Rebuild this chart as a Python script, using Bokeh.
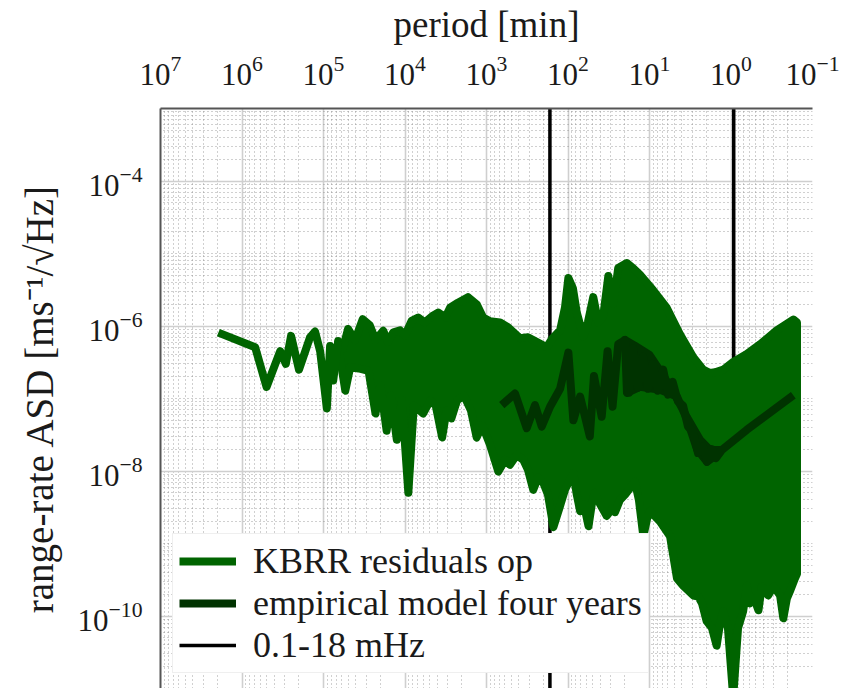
from bokeh.plotting import figure
from bokeh.models import Range1d, FixedTicker, Legend, LegendItem
from bokeh.embed import file_html
from bokeh.resources import INLINE

# KBRR range-rate residual ASD, lowest-frequency bins (period in min, ASD in m/s/sqrt(Hz))
kbrr_low_period = [1.95e6, 6.9e5, 5.0e5, 3.4e5, 2.9e5, 2.5e5, 2.0e5, 1.64e5,
                   1.47e5, 1.27e5, 1.10e5, 9.1e4, 8.3e4, 7.6e4, 6.6e4]
kbrr_low_asd = [8.1e-7, 5.1e-7, 1.44e-7, 4.5e-7, 3.0e-7, 7.3e-7, 2.5e-7, 4.8e-7,
                6.9e-7, 8.4e-7, 4.5e-7, 7.3e-8, 5.3e-7, 1.77e-7, 6.2e-7]

# Dense part of the KBRR spectrum: upper envelope
kbrr_upper_period = [6.6e4, 5.8e4, 5.0e4, 4.1e4, 3.3e4, 2.7e4, 2.3e4, 1.85e4, 1.62e4, 1.39e4,
                     1.15e4, 1.0e4, 8.3e3, 6.9e3, 5.7e3, 4.5e3, 3.9e3, 3.2e3, 2.8e3, 2.24e3,
                     1.69e3, 1.31e3, 1.10e3, 906, 682, 545, 388, 310, 240, 182,
                     158, 125, 109, 99, 87, 78, 65, 57, 49, 42.5,
                     37, 32, 27.8, 24.2, 19.0, 15.9, 13.1, 8.98, 6.15, 4.23,
                     2.90, 2.19, 1.81, 1.57, 1.24, 0.94, 0.64, 0.44, 0.275, 0.172,
                     0.155]
kbrr_upper_asd = [6.2e-7, 4.8e-7, 9.1e-7, 6.4e-7, 1.24e-6, 1.02e-6, 6.4e-7, 8.6e-7, 6.0e-7, 8.2e-7,
                  8.7e-7, 7.4e-7, 1.18e-6, 1.31e-6, 1.12e-6, 1.40e-6, 1.53e-6, 1.31e-6, 1.79e-6, 2.1e-6,
                  2.5e-6, 1.97e-6, 1.31e-6, 1.16e-6, 1.12e-6, 9.6e-7, 6.8e-7, 7.0e-7, 6.0e-7, 5.1e-7,
                  6.6e-7, 8.7e-7, 1.79e-6, 4.6e-6, 3.3e-6, 1.53e-6, 7.2e-7, 1.12e-6, 2.5e-6, 1.12e-6,
                  1.35e-6, 4.9e-6, 2.0e-6, 6.3e-6, 7.4e-6, 6.3e-6, 5.1e-6, 3.1e-6, 1.79e-6, 7.7e-7,
                  3.7e-7, 2.5e-7, 2.25e-7, 2.3e-7, 2.5e-7, 3.2e-7, 4.1e-7, 5.6e-7, 8.7e-7, 1.23e-6,
                  1.12e-6]

# Dense part of the KBRR spectrum: lower envelope with its deep dips
kbrr_lower_period = [6.6e4, 5.4e4, 4.7e4, 3.7e4, 2.8e4, 2.3e4, 2.0e4, 1.68e4, 1.49e4, 1.26e4,
                     1.09e4, 9.1e3, 7.8e3, 6.0e3, 4.9e3, 4.2e3, 3.5e3, 3.1e3, 2.7e3, 2.3e3,
                     1.89e3, 1.55e3, 1.32e3, 1.13e3, 906, 716, 593, 515, 426, 353,
                     310, 267, 233, 201, 176, 151, 125, 109, 86, 78,
                     71, 64, 56, 51, 47, 40.5, 33.5, 28.8, 26.5, 23.0,
                     20.0, 15.1, 13.5, 11.9, 10.7, 9.9, 7.4, 5.6, 4.6, 3.85,
                     2.90, 2.52, 2.27, 1.99, 1.71, 1.50, 1.36, 1.24, 1.09, 0.94,
                     0.82, 0.71, 0.64, 0.585, 0.52, 0.46, 0.42, 0.35, 0.30, 0.25,
                     0.228, 0.206, 0.189, 0.164, 0.155]
kbrr_lower_asd = [5.3e-7, 1.28e-7, 2.7e-7, 2.6e-7, 2.4e-7, 6.2e-8, 1.50e-7, 3.6e-8, 1.10e-7, 2.7e-8,
                  9.4e-8, 5.0e-9, 8.0e-8, 6.2e-8, 9.4e-8, 8.0e-8, 2.9e-8, 6.8e-8, 5.3e-8, 9.4e-8,
                  1.10e-7, 6.8e-8, 2.9e-8, 4.3e-8, 2.3e-8, 9.8e-9, 1.42e-8, 1.22e-8, 1.66e-8, 1.42e-8,
                  1.04e-8, 5.5e-9, 8.1e-9, 6.9e-9, 4.7e-9, 1.68e-9, 3.3e-9, 5.5e-9, 9.4e-9, 4.7e-9,
                  2.8e-9, 3.5e-9, 1.73e-9, 3.5e-9, 5.0e-9, 3.5e-9, 2.4e-9, 3.0e-9, 2.7e-9, 4.0e-9,
                  4.7e-9, 7.1e-9, 4.0e-9, 1.26e-9, 2.2e-9, 2.8e-9, 2.0e-9, 1.26e-9, 3.3e-10, 2.6e-10,
                  1.92e-10, 1.86e-10, 1.50e-10, 8.5e-11, 6.8e-11, 3.9e-11, 8.0e-11, 1.16e-10, 6.8e-11, 7.6e-12,
                  6.8e-11, 1.16e-10, 2.6e-10, 1.50e-10, 1.75e-10, 1.20e-10, 2.55e-10, 1.92e-10, 2.55e-10, 1.92e-10,
                  9.3e-11, 1.75e-10, 2.2e-10, 3.3e-10, 3.8e-10]

# Empirical noise model (four years): trace
emp_period = [650, 447, 321, 254, 210, 166, 125, 99, 86, 71,
              54, 48, 38.6, 32.7, 28.4, 24.2, 20.0, 17.9, 15.9, 13.8,
              12.0, 10.4, 9.1, 7.9, 6.8, 5.9, 5.2, 4.47, 3.88, 3.37,
              2.92, 2.54, 2.21, 1.97, 1.71, 1.53, 1.29, 0.64, 0.172]
emp_asd = [8.1e-8, 1.17e-7, 3.9e-8, 8.1e-8, 4.1e-8, 7.7e-8, 1.36e-7, 4.3e-7, 5.0e-8, 1.06e-7,
           3.0e-8, 2.05e-7, 5.6e-8, 4.5e-7, 7.7e-8, 5.6e-7, 6.4e-7, 1.20e-7, 4.9e-7, 1.41e-7,
           3.8e-7, 1.36e-7, 3.0e-7, 1.28e-7, 2.5e-7, 1.13e-7, 1.70e-7, 9.1e-8, 8.0e-8, 4.1e-8,
           3.5e-8, 1.77e-8, 2.2e-8, 1.34e-8, 2.0e-8, 1.51e-8, 1.95e-8, 3.7e-8, 1.11e-7]

# Empirical model: spread of its densest stretch
emp_upper_period = [20.0, 15.3, 10.0, 7.4, 5.2, 3.47, 2.40, 1.81, 1.36]
emp_upper_asd = [6.4e-7, 5.4e-7, 4.0e-7, 2.4e-7, 1.28e-7, 5.5e-8, 2.7e-8, 1.95e-8, 1.95e-8]
emp_lower_period = [18.9, 13.1, 7.4, 4.6, 3.47, 2.61, 1.97, 1.36]
emp_lower_asd = [1.20e-7, 1.45e-7, 1.32e-7, 1.06e-7, 5.2e-8, 2.0e-8, 1.34e-8, 1.83e-8]

# Measurement band edges in mHz
band_mhz = [0.1, 18.0]
band_period = [1e3 / (f * 60.0) for f in band_mhz]

# Axis ticks
x_major = [1e7, 1e6, 1e5, 1e4, 1e3, 1e2, 1e1, 1e0, 1e-1]
y_major = [1e-10, 1e-8, 1e-6, 1e-4]

x_minor = [m * 10.0 ** e for e in range(-1, 7) for m in range(2, 10)]
y_minor = [m * 10.0 ** e for e in range(-11, -3) for m in range(1, 10)
           if not (m == 1 and e in (-10, -8, -6, -4))]

FONT = "Liberation Serif"
GREEN = "#006400"
DARK_GREEN = "#003300"
SPINE = "#555555"

y_lo, y_hi = 1e-11, 1e-3

p = figure(width=847, height=688,
           x_axis_type="log", y_axis_type="log", x_axis_location="above",
           x_range=Range1d(1e7, 1e-1), y_range=Range1d(y_lo, y_hi),
           output_backend="svg", toolbar_location=None,
           min_border_left=160, min_border_right=35,
           min_border_top=103, min_border_bottom=0)
p.outline_line_color = None
p.background_fill_color = "white"
p.border_fill_color = "white"

xt = FixedTicker(ticks=x_major, minor_ticks=x_minor)
yt = FixedTicker(ticks=y_major, minor_ticks=y_minor)

xax = p.xaxis[0]
yax = p.yaxis[0]
xax.ticker = xt
yax.ticker = yt
xax.axis_label = "period [min]"
yax.axis_label = "range-rate ASD [ms\u207b\u00b9/\u221aHz]"
for ax in (xax, yax):
    ax.axis_label_text_font = FONT
    ax.axis_label_text_font_style = "normal"
    ax.axis_label_text_color = "#1a1a1a"
    ax.major_label_text_font = FONT
    ax.major_label_text_font_size = "31px"
    ax.major_label_text_color = "#1a1a1a"
    ax.major_tick_line_color = None
    ax.minor_tick_line_color = None
    ax.axis_line_color = SPINE
    ax.axis_line_width = 2
xax.axis_label_text_font_size = "37px"
yax.axis_label_text_font_size = "39px"
xax.major_label_standoff = 18
xax.axis_label_standoff = 8
yax.major_label_standoff = 12
yax.axis_label_standoff = 14

for g, t in ((p.xgrid, xt), (p.ygrid, yt)):
    g.ticker = t
    g.grid_line_color = "#cfcfcf"
    g.grid_line_width = 1.6
    g.minor_grid_line_color = "#808080"
    g.minor_grid_line_alpha = 0.75
    g.minor_grid_line_dash = "1 3"
    g.minor_grid_line_width = 1

# Band edges drawn beneath the spectra, spanning the whole y range
band_r = p.segment(x0=band_period, y0=[y_lo] * len(band_period),
                   x1=band_period, y1=[y_hi] * len(band_period),
                   line_color="black", line_width=3.5)

# KBRR residuals: dense envelope and sparse low-frequency bins
band_xs = kbrr_upper_period + kbrr_lower_period[::-1]
band_ys = kbrr_upper_asd + kbrr_lower_asd[::-1]
p.patch(x=band_xs, y=band_ys, fill_color=GREEN, line_color=GREEN,
        line_width=8, line_join="round")
kbrr_r = p.line(kbrr_low_period, kbrr_low_asd, line_color=GREEN, line_width=8,
                line_join="round", line_cap="butt")

# Empirical model
emp_xs = emp_upper_period + emp_lower_period[::-1]
emp_ys = emp_upper_asd + emp_lower_asd[::-1]
p.patch(x=emp_xs, y=emp_ys, fill_color=DARK_GREEN, line_color=DARK_GREEN,
        line_width=8, line_join="round")
emp_r = p.line(emp_period, emp_asd, line_color=DARK_GREEN, line_width=8,
               line_join="round", line_cap="butt")

legend = Legend(items=[LegendItem(label="KBRR residuals op", renderers=[kbrr_r]),
                       LegendItem(label="empirical model four years", renderers=[emp_r]),
                       LegendItem(label="0.1-18 mHz", renderers=[band_r])],
                location=(12, 15),
                label_text_font=FONT, label_text_font_size="36px",
                label_text_color="#1a1a1a",
                glyph_width=57, glyph_height=30, label_height=30,
                label_standoff=17, spacing=-3, padding=6,
                background_fill_color="white", background_fill_alpha=1.0,
                border_line_color="#e0e0e0", border_line_width=1)
p.add_layout(legend)

open("out.html", "w").write(file_html(p, INLINE))
